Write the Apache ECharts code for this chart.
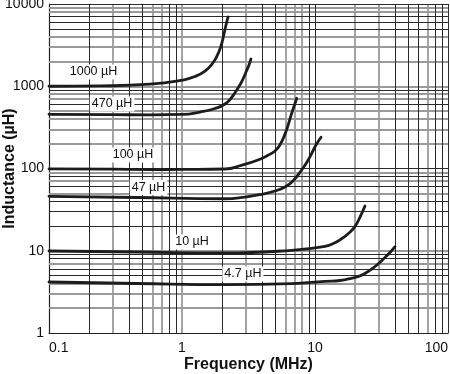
<!DOCTYPE html>
<html><head><meta charset="utf-8">
<script src="https://cdn.jsdelivr.net/npm/echarts@6/dist/echarts.min.js"></script>
<style>html,body{margin:0;padding:0;background:#fff}#c{width:450px;height:374px}</style>
</head><body><div id="c"></div>
<script>
// ---- data ----
const seriesNames = ['1000 µH', '470 µH', '100 µH', '47 µH', '10 µH', '4.7 µH'];

const freq1000 = [0.1, 0.242, 0.574, 1.017, 1.252, 1.489, 1.681, 1.834, 1.965, 2.069, 2.142, 2.218];
const ind1000  = [1000, 1010, 1060, 1191, 1314, 1532, 1864, 2333, 3087, 4318, 5555, 6950];

const freq470 = [0.1, 0.3, 0.574, 1.01, 1.365, 1.77, 2.105, 2.376, 2.637, 2.826, 3.029, 3.19, 3.30];
const ind470  = [455, 452, 449, 455, 486, 536, 608, 740, 952, 1158, 1490, 1813, 2145];

const freq100 = [0.1, 0.3, 0.574, 1.0, 2.105, 2.826, 3.727, 4.432, 5.003, 5.455, 5.948, 6.322, 6.68, 7.01, 7.29];
const ind100  = [99, 98, 97.2, 97.5, 98.6, 110, 127, 145, 163, 194, 262, 350, 469, 592, 714];

const freq47 = [0.1, 0.459, 2.105, 2.977, 3.97, 5.003, 5.948, 6.83, 7.94, 8.71, 9.445, 10.17, 11.1];
const ind47  = [45.9, 44.4, 42.9, 45.0, 48.6, 53.3, 59.6, 70.5, 95.9, 120, 153, 193, 240];

const freq10 = [0.1, 0.459, 2.105, 6.68, 11.89, 14.14, 15.96, 18.01, 19.99, 21.8, 23.76];
const ind10  = [9.93, 9.65, 9.39, 10.13, 11.34, 12.54, 14.1, 16.4, 19.8, 25.7, 35.0];

const freq4_7 = [0.1, 0.459, 2.105, 6.68, 11.9, 15.42, 18.98, 22.57, 26.37, 29.77, 33.6, 36.64, 39.95];
const ind4_7  = [4.17, 4.0, 3.87, 3.98, 4.25, 4.35, 4.66, 5.07, 5.92, 6.90, 8.28, 9.52, 11.2];

const labelFreq = [0.216, 0.298, 0.428, 0.56, 1.19, 2.87];
const labelInd  = [1490, 608, 146, 58.7, 12.8, 5.21];

// grid lines (values on the axes)
const xGridDark = [0.2, 0.4, 0.5, 0.8, 0.9, 2, 4, 5, 9, 10, 40, 50, 60, 80, 90, 100];
const xGridGray = [0.3, 0.6, 0.7, 1, 3, 6, 7, 8, 20, 30, 70];
const yGridDark = [5, 6, 8, 9, 20, 30, 40, 60, 80, 100, 600, 900, 5000, 6000, 7000, 10000];
const yGridGray = [2, 3, 4, 7, 10, 50, 70, 90, 200, 300, 400, 500, 700, 800, 1000, 2000, 3000, 4000, 8000, 9000];

// ---- build ----
const FONT = 'Liberation Sans, Arial, Helvetica, sans-serif';
const freqs = [freq1000, freq470, freq100, freq47, freq10, freq4_7];
const inds = [ind1000, ind470, ind100, ind47, ind10, ind4_7];

const darkStyle = { color: '#2a2a2a', width: 1, type: 'solid' };
const grayStyle = { color: '#9a9a9a', width: 1.8, type: 'solid' };
const gridLines = [];
xGridGray.forEach(v => gridLines.push({ xAxis: v, lineStyle: grayStyle }));
yGridGray.forEach(v => gridLines.push({ yAxis: v, lineStyle: grayStyle }));
xGridDark.forEach(v => gridLines.push({ xAxis: v, lineStyle: darkStyle }));
yGridDark.forEach(v => gridLines.push({ yAxis: v, lineStyle: darkStyle }));

const series = [{
  name: 'grid', type: 'line', data: [[0.1, 1]], showSymbol: false, symbol: 'none',
  lineStyle: { opacity: 0 }, silent: true, z: 1,
  markLine: {
    z: 1, silent: true, symbol: ['none', 'none'], animation: false,
    label: { show: false }, lineStyle: { type: 'solid' }, data: gridLines
  }
}];

seriesNames.forEach((name, i) => {
  series.push({
    name: name, type: 'line', z: 10,
    data: freqs[i].map((f, j) => [f, inds[i][j]]),
    smooth: 0.5, showSymbol: false, symbol: 'none',
    lineStyle: { color: '#1c1c1c', width: 2.8, cap: 'round', join: 'round' },
    markPoint: {
      z: 12, symbol: 'rect', symbolSize: 0, silent: true, animation: false,
      label: {
        show: true, position: 'inside', formatter: name,
        fontFamily: FONT, fontSize: 12.5, color: '#111',
        backgroundColor: '#fff', padding: [1, 2]
      },
      data: [{ coord: [labelFreq[i], labelInd[i]] }]
    }
  });
});

const plain = v => String(v);

const chart = echarts.init(document.getElementById('c'), null, { renderer: 'canvas' });
chart.setOption({
  animation: false,
  backgroundColor: '#fff',
  grid: { left: 49, right: 2, top: 4, bottom: 41, containLabel: false, outerBoundsMode: 'none' },
  xAxis: {
    type: 'log', logBase: 10, min: 0.1, max: 100,
    name: 'Frequency (MHz)', nameLocation: 'middle', nameGap: 24, nameMoveOverlap: false,
    nameTextStyle: { fontFamily: FONT, fontSize: 16, fontWeight: 'bold', color: '#111' },
    axisLine: { show: true, lineStyle: { color: '#222', width: 1.2 } },
    axisTick: { show: false },
    splitLine: { show: false },
    axisLabel: { fontFamily: FONT, fontSize: 14, color: '#111', margin: 8, formatter: plain,
      alignMinLabel: 'left', alignMaxLabel: 'right' }
  },
  yAxis: {
    type: 'log', logBase: 10, min: 1, max: 10000,
    name: 'Inductance (µH)', nameLocation: 'middle', nameGap: 31, nameMoveOverlap: false,
    nameTextStyle: { fontFamily: FONT, fontSize: 16, fontWeight: 'bold', color: '#111' },
    axisLine: { show: true, lineStyle: { color: '#222', width: 1.2 } },
    axisTick: { show: false },
    splitLine: { show: false },
    axisLabel: { fontFamily: FONT, fontSize: 14, color: '#111', margin: 5, formatter: plain }
  },
  series: series
});
</script></body></html>
